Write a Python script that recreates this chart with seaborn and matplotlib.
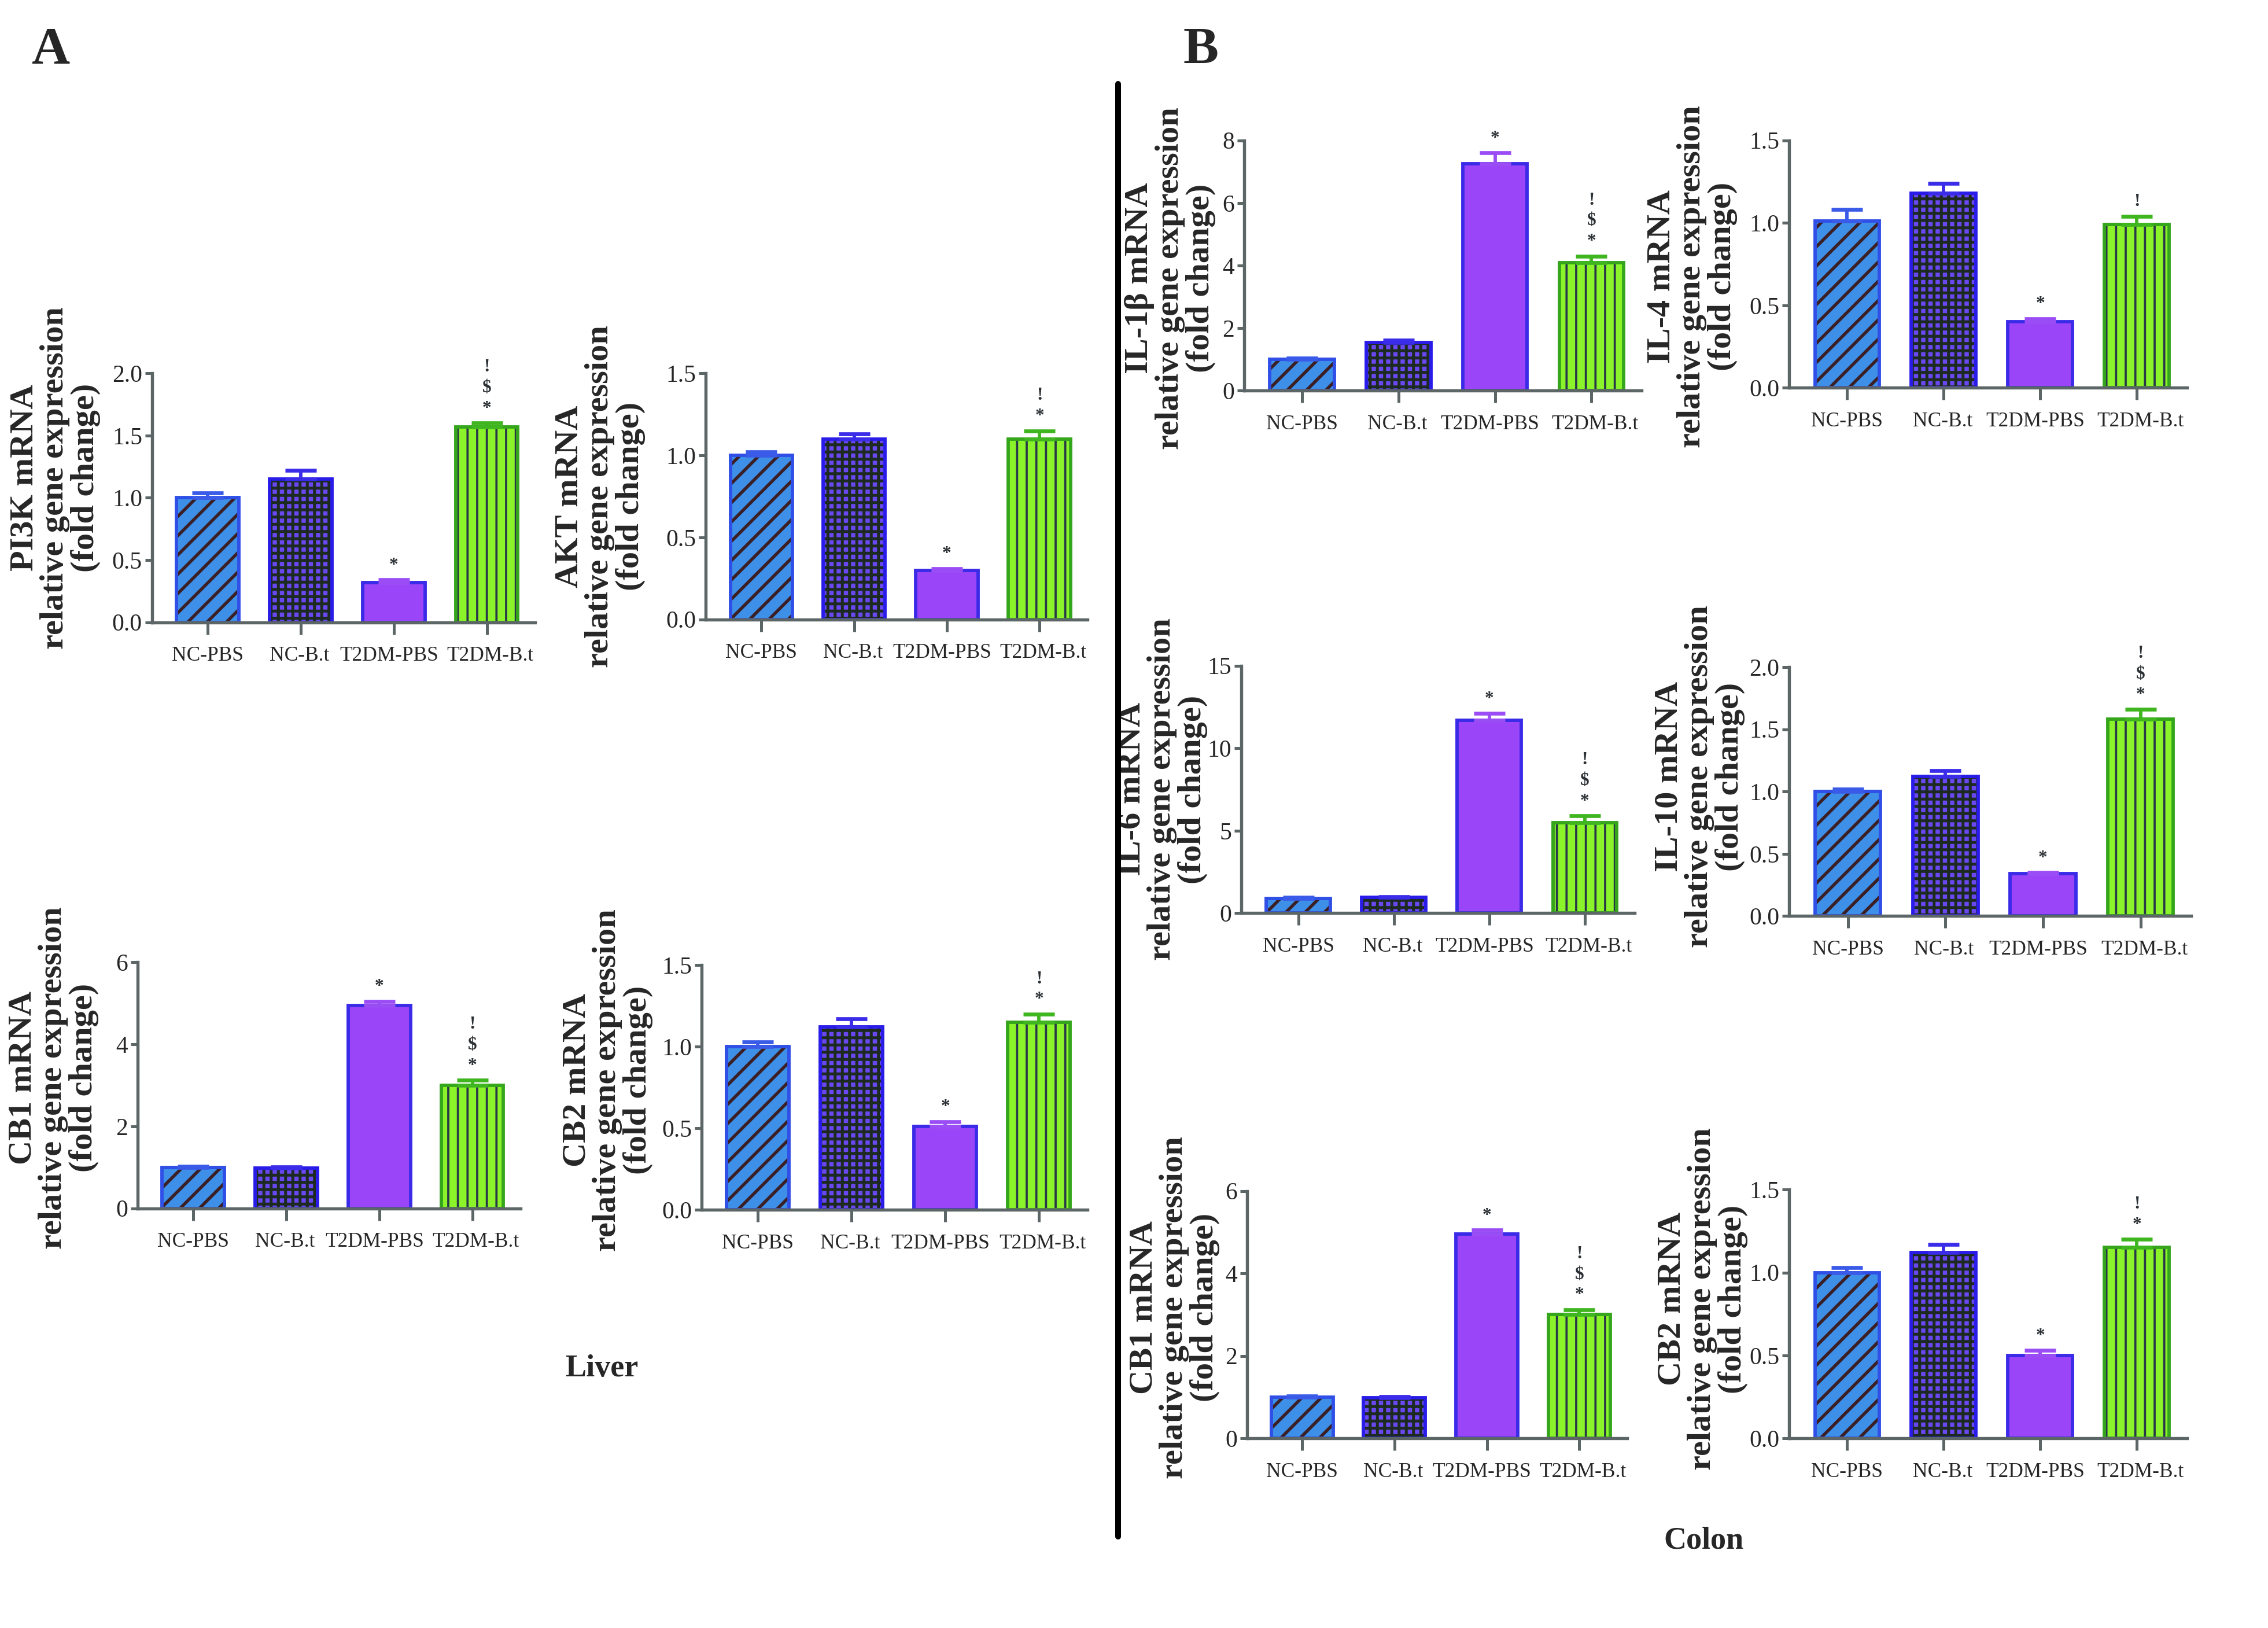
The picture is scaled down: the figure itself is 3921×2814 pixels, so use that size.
import pandas as pd
import matplotlib.pyplot as plt
from matplotlib.lines import Line2D
from matplotlib.transforms import ScaledTranslation
import seaborn as sns

# Style
sns.set_style("ticks")
plt.rcParams['font.family'] = ['Liberation Serif', 'DejaVu Serif']
plt.rcParams['hatch.linewidth'] = 1.2

# Groups and bar styling
groups = ["NC-PBS", "NC-B.t", "T2DM-PBS", "T2DM-B.t"]
fill_colors = ['#3d8fe8', '#6a48f0', '#9a45f7', '#8af32a']
hatch_colors = ['#3b1f24', '#1c2a22', '#9a45f7', '#283848']
edge_colors = ['#2f4fe6', '#2a1ce8', '#3a2be8', '#35a51c']
err_colors = ['#3a5ae8', '#3a2ce8', '#9b4df5', '#3fb520']
hatches = ['///', '++++', '', '|||']
hatch_widths = [1.3, 1.2, 1.0, 0.9]
label_shift = [0, -0.5, -2, 1.5]   # x tick label nudge, points
spine_color = '#5d6666'

# Liver data (mean, SEM, significance marks)
pi3k_mean = [1.00, 1.15, 0.32, 1.57]
pi3k_sem = [0.04, 0.07, 0.02, 0.03]
pi3k_marks = ["", "", "*", "*$!"]

akt_mean = [1.00, 1.10, 0.30, 1.10]
akt_sem = [0.02, 0.03, 0.01, 0.05]
akt_marks = ["", "", "*", "*!"]

cb1_liver_mean = [1.00, 0.98, 4.95, 3.00]
cb1_liver_sem = [0.03, 0.03, 0.10, 0.12]
cb1_liver_marks = ["", "", "*", "*$!"]

cb2_liver_mean = [1.00, 1.12, 0.51, 1.15]
cb2_liver_sem = [0.03, 0.05, 0.03, 0.05]
cb2_liver_marks = ["", "", "*", "*!"]

# Colon data
il1b_mean = [1.00, 1.55, 7.25, 4.10]
il1b_sem = [0.05, 0.07, 0.35, 0.20]
il1b_marks = ["", "", "*", "*$!"]

il4_mean = [1.01, 1.18, 0.40, 0.99]
il4_sem = [0.07, 0.06, 0.02, 0.05]
il4_marks = ["", "", "*", "!"]

il6_mean = [0.90, 0.95, 11.70, 5.50]
il6_sem = [0.05, 0.05, 0.40, 0.40]
il6_marks = ["", "", "*", "*$!"]

il10_mean = [1.00, 1.12, 0.34, 1.58]
il10_sem = [0.02, 0.05, 0.01, 0.08]
il10_marks = ["", "", "*", "*$!"]

cb1_colon_mean = [1.00, 0.98, 4.95, 3.00]
cb1_colon_sem = [0.03, 0.03, 0.10, 0.12]
cb1_colon_marks = ["", "", "*", "*$!"]

cb2_colon_mean = [1.00, 1.12, 0.50, 1.15]
cb2_colon_sem = [0.03, 0.05, 0.03, 0.05]
cb2_colon_marks = ["", "", "*", "*!"]

ticks_2 = [0.0, 0.5, 1.0, 1.5, 2.0]
ticks_15 = [0.0, 0.5, 1.0, 1.5]
ticks_6 = [0, 2, 4, 6]
ticks_8 = [0, 2, 4, 6, 8]
ticks_il6 = [0, 5, 10, 15]


def draw_panel(ax, mean, sem, marks, gene, yticks, fmt, lab_x, lab_y):
    df = pd.DataFrame({'group': groups, 'value': mean})
    sns.barplot(data=df, x='group', y='value', hue='group', palette=fill_colors,
                width=0.67, saturation=1, errorbar=None, legend=False,
                linewidth=0, ax=ax)
    for p, h, hc, hw in zip(ax.patches, hatches, hatch_colors, hatch_widths):
        p.set_hatch(h)
        p.set_edgecolor(hc)
        p.set_linewidth(0)
        if hasattr(p, 'set_hatch_linewidth'):
            p.set_hatch_linewidth(hw)
    sns.barplot(data=df, x='group', y='value', hue='group', palette=edge_colors,
                width=0.67, saturation=1, errorbar=None, legend=False,
                fill=False, linewidth=1.4, ax=ax)

    # error bars (upper only) + significance marks
    for i in range(len(groups)):
        ax.errorbar(i, mean[i], yerr=[[0], [sem[i]]], fmt='none', ecolor=err_colors[i],
                    elinewidth=1.4, capsize=6.5, capthick=1.6, zorder=1)
        for k, ch in enumerate(marks[i]):
            ax.annotate(ch, (i, mean[i] + sem[i]), xytext=(0, 6 + 8.6 * k),
                        textcoords='offset points', ha='center', va='center',
                        fontsize=7.5, fontweight='bold', color='#2a2f33')

    ax.set_xlim(-0.6, 3.52)
    ax.set_ylim(0, yticks[-1])
    ax.set_yticks(yticks)
    ax.set_yticklabels([fmt.format(t) for t in yticks])
    ax.set_xlabel('')
    ax.set_ylabel(f"{gene} mRNA\nrelative gene expression\n(fold change)",
                  fontsize=14, fontweight='bold', linespacing=1.02, va='center')
    ax.yaxis.set_label_coords(lab_x, lab_y)
    sns.despine(ax=ax)
    for s in ['left', 'bottom']:
        ax.spines[s].set_color(spine_color)
        ax.spines[s].set_linewidth(1.3)
    ax.tick_params(axis='x', length=5, width=1.2, color=spine_color, labelsize=8.5, pad=5)
    ax.tick_params(axis='y', length=3, width=1.2, color=spine_color, labelsize=10, pad=1)
    for lab, dx in zip(ax.get_xticklabels(), label_shift):
        lab.set_transform(lab.get_transform() + ScaledTranslation(dx / 72, 0, fig.dpi_scale_trans))


W, H = 1568, 1125
fig = plt.figure(figsize=(3921 / 300, 2814 / 300), dpi=300)


def add_axes(left, right, top, bottom):
    return fig.add_axes([left / W, 1 - bottom / H, (right - left) / W, (bottom - top) / H])


panels = [
    # (left, right, top, bottom), data..., gene, ticks, fmt, label x, label y
    ((105, 370, 258, 430), pi3k_mean, pi3k_sem, pi3k_marks, "PI3K", ticks_2, "{:.1f}", -0.253, 0.58),
    ((488, 752, 258, 428), akt_mean, akt_sem, akt_marks, "AKT", ticks_15, "{:.1f}", -0.277, 0.50),
    ((95, 360, 665, 835), cb1_liver_mean, cb1_liver_sem, cb1_liver_marks, "CB1", ticks_6, "{:d}", -0.219, 0.53),
    ((485, 752, 667, 836), cb2_liver_mean, cb2_liver_sem, cb2_liver_marks, "CB2", ticks_15, "{:.1f}", -0.243, 0.53),
    ((860, 1135, 97, 270), il1b_mean, il1b_sem, il1b_marks, "IL-1β", ticks_8, "{:d}", -0.185, 0.45),
    ((1237, 1512, 97, 268), il4_mean, il4_sem, il4_marks, "IL-4", ticks_15, "{:.1f}", -0.244, 0.45),
    ((858, 1130, 460, 631), il6_mean, il6_sem, il6_marks, "IL-6", ticks_il6, "{:d}", -0.20, 0.50),
    ((1237, 1515, 461, 633), il10_mean, il10_sem, il10_marks, "IL-10", ticks_2, "{:.1f}", -0.223, 0.56),
    ((862, 1125, 823, 994), cb1_colon_mean, cb1_colon_sem, cb1_colon_marks, "CB1", ticks_6, "{:d}", -0.190, 0.53),
    ((1237, 1512, 822, 994), cb2_colon_mean, cb2_colon_sem, cb2_colon_marks, "CB2", ticks_15, "{:.1f}", -0.218, 0.56),
]

for rect, mean, sem, marks, gene, yticks, fmt, lx, ly in panels:
    ax = add_axes(*rect)
    draw_panel(ax, mean, sem, marks, gene, yticks, fmt, lx, ly)

# Panel letters, tissue labels and divider
fig.text(35 / W, 1 - 35 / H, "A", fontsize=22, fontweight='bold', ha='center', va='center')
fig.text(830 / W, 1 - 35 / H, "B", fontsize=22, fontweight='bold', ha='center', va='center')
fig.text(416 / W, 1 - 946 / H, "Liver", fontsize=13, fontweight='bold', ha='center', va='center')
fig.text(1178 / W, 1 - 1065 / H, "Colon", fontsize=13, fontweight='bold', ha='center', va='center')
fig.add_artist(Line2D([773 / W, 773 / W], [1 - 58 / H, 1 - 1062 / H],
                      transform=fig.transFigure, color='black', lw=2.4))

fig.savefig("out.png", dpi=300)
